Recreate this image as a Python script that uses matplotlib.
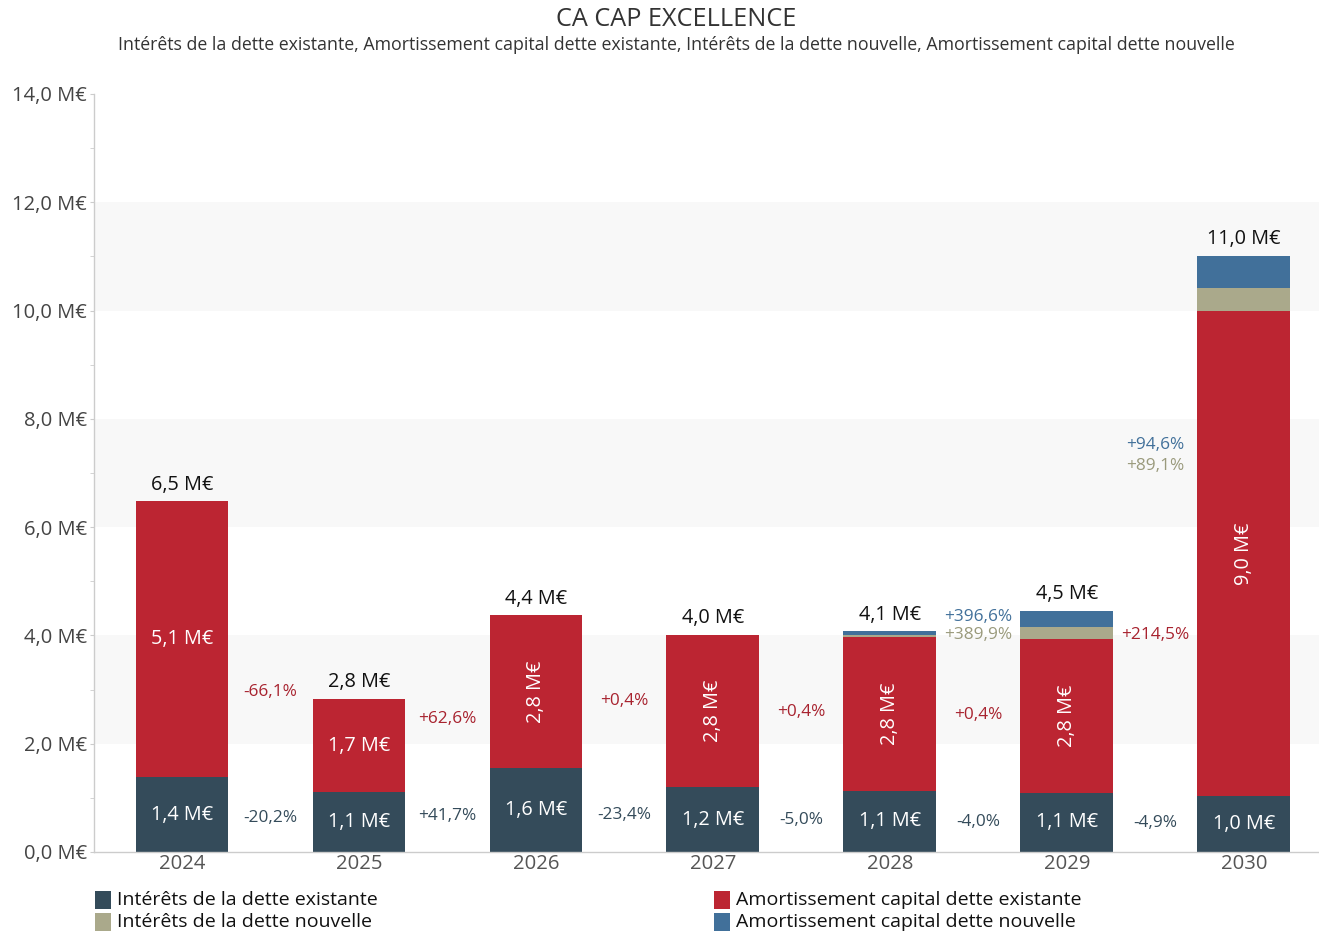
import matplotlib
matplotlib.use("Agg")
import matplotlib.pyplot as plt
from matplotlib.patches import Rectangle
import numpy as np

plt.rcParams['font.family'] = ['Open Sans', 'DejaVu Sans']

years = ["2024", "2025", "2026", "2027", "2028", "2029", "2030"]
interets_existante = [1.38, 1.10, 1.56, 1.195, 1.135, 1.09, 1.036]
amort_existante = [5.10, 1.73, 2.81, 2.82, 2.83, 2.84, 8.96]
interets_nouvelle = [0.0, 0.0, 0.0, 0.0, 0.045, 0.22, 0.42]
amort_nouvelle = [0.0, 0.0, 0.0, 0.0, 0.063, 0.31, 0.60]

pct_interets_existante = ["-20,2%", "+41,7%", "-23,4%", "-5,0%", "-4,0%", "-4,9%"]
pct_amort_existante = ["-66,1%", "+62,6%", "+0,4%", "+0,4%", "+0,4%", "+214,5%"]
pct_interets_nouvelle = [None, None, None, None, "+389,9%", "+89,1%"]
pct_amort_nouvelle = [None, None, None, None, "+396,6%", "+94,6%"]

amort_rotated = [False, False, True, True, True, True, True]

series_names = ["Intérêts de la dette existante", "Amortissement capital dette existante",
                "Intérêts de la dette nouvelle", "Amortissement capital dette nouvelle"]
colors = ["#344b5a", "#bc2532", "#aaa98b", "#41709a"]
text_colors = ["#344b5a", "#a8232f", "#9a9a7c", "#41709a"]

yticks = [0, 2, 4, 6, 8, 10, 12, 14]

W, H = 1319, 934
fig = plt.figure(figsize=(W / 100, H / 100), dpi=100)
ax = fig.add_axes([94/W, 82/H, 1 - 94/W, (852-94)/H])

x = np.arange(len(years))
width = 0.525
series = [interets_existante, amort_existante, interets_nouvelle, amort_nouvelle]

ax.set_xlim(-0.497, 6.424)
ax.set_ylim(0, 14)

# background bands
for lo in [2, 6, 10]:
    ax.axhspan(lo, lo + 2, color="#f8f8f8", zorder=0, lw=0)

bottoms = np.zeros(len(years))
centers = []
for vals, c in zip(series, colors):
    vals = np.array(vals)
    ax.bar(x, vals, width, bottom=bottoms, color=c, edgecolor="none", zorder=2)
    centers.append(bottoms + vals / 2)
    bottoms = bottoms + vals
totals = bottoms

def fmt(v):
    return f"{v:.1f}".replace(".", ",") + " M€"

# segment labels
for i in range(len(years)):
    ax.text(x[i], centers[0][i], fmt(interets_existante[i]), ha="center", va="center",
            color="white", fontsize=14.3, zorder=3)
    ax.text(x[i], centers[1][i], fmt(amort_existante[i]), ha="center", va="center",
            color="white", fontsize=14.3, zorder=3,
            rotation=90 if amort_rotated[i] else 0)
    ax.text(x[i], totals[i] + 0.12, fmt(totals[i]), ha="center", va="bottom",
            color="#111111", fontsize=14.3, zorder=3)

# percent labels between bars
pcts = [pct_interets_existante, pct_amort_existante, pct_interets_nouvelle, pct_amort_nouvelle]
for i in range(len(years) - 1):
    xm = (x[i] + x[i + 1]) / 2
    ys = [(centers[k][i] + centers[k][i + 1]) / 2 for k in range(4)]
    if pcts[3][i] is not None and pcts[2][i] is not None and abs(ys[3] - ys[2]) < 0.33:
        ys[3] = ys[2] + 0.33
    for k in range(4):
        if pcts[k][i] is None:
            continue
        ax.text(xm, ys[k], pcts[k][i], ha="center", va="center", color=text_colors[k],
                fontsize=12.4, zorder=3)

ax.set_yticks(yticks)
ax.set_yticklabels([f"{v:.1f}".replace(".", ",") + " M€" for v in yticks])
ax.set_yticks(np.arange(0, 15, 1), minor=True)
ax.set_xticks(x)
ax.set_xticklabels(years)
ax.tick_params(axis="y", which="both", length=3, color="#cccccc", labelsize=14.5,
               labelcolor="#444444", pad=2)
ax.tick_params(axis="x", length=0, labelsize=14.6, labelcolor="#555555", pad=1.5)
for s in ["top", "right"]:
    ax.spines[s].set_visible(False)
for s in ["left", "bottom"]:
    ax.spines[s].set_color("#cccccc")
    ax.spines[s].set_linewidth(1)

fig.text(676/W, 1 - 19/H, "CA CAP EXCELLENCE", ha="center", va="center",
         fontsize=18.2, color="#333333")
fig.text(676/W, 1 - 45/H, ", ".join(series_names), ha="center", va="center",
         fontsize=12.75, color="#333333")

# legend (two columns)
legend_items = [(0, 95, 900), (2, 95, 922), (1, 714, 900), (3, 714, 922)]
for k, px, py in legend_items:
    fig.patches.append(Rectangle((px / W, 1 - (py + 9) / H), 16 / W, 18 / H,
                                 transform=fig.transFigure, facecolor=colors[k],
                                 edgecolor="none"))
    fig.text((px + 22) / W, 1 - py / H, series_names[k], ha="left", va="center",
             fontsize=14, color="#111111")

fig.savefig("out.png", dpi=100)
